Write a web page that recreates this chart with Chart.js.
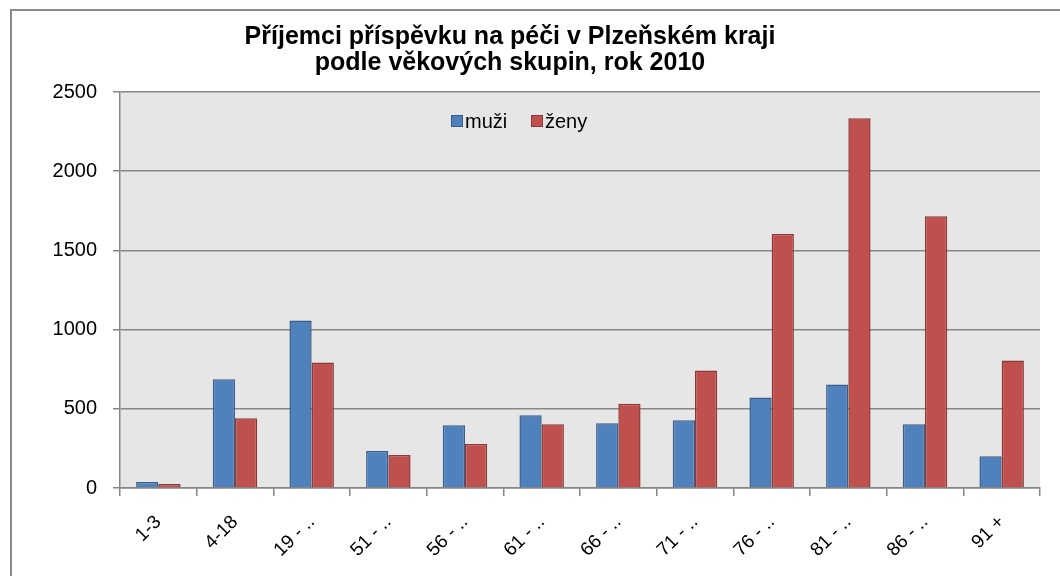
<!DOCTYPE html>
<html>
<head>
<meta charset="utf-8">
<script src="https://cdn.jsdelivr.net/npm/chart.js@4.4.1/dist/chart.umd.min.js"></script>
<style>
  html, body { margin: 0; padding: 0; background: #fff; overflow: hidden; }
  #frame { position: absolute; left: 10px; top: 9px; width: 1100px; height: 620px; border: 2px solid #8a8a8a; box-sizing: border-box; }
  #wrap { position: absolute; left: -20px; top: 0; width: 1080px; height: 576px; }
</style>
</head>
<body>
<div id="frame"></div>
<div id="wrap"><canvas id="chart" width="1080" height="576"></canvas></div>
<script>
// data
const categories = ["1-3", "4-18", "19 - ..", "51 - ..", "56 - ..", "61 - ..", "66 - ..", "71 - ..", "76 - ..", "81 - ..", "86 - ..", "91 +"];
const muzi = [38, 686, 1057, 233, 396, 459, 409, 428, 572, 654, 402, 201];
const zeny = [25, 440, 793, 208, 277, 402, 532, 742, 1604, 2334, 1715, 805];
const yTicks = [0, 500, 1000, 1500, 2000, 2500];
const seriesNames = ["muži", "ženy"];
const titleLines = ["Příjemci příspěvku na péči v Plzeňském kraji", "podle věkových skupin, rok 2010"];

const FONT = "'Liberation Sans', Arial, sans-serif";
const GRID = "#868686";

// light grey plot background
const plotBg = {
  id: "plotBg",
  beforeDraw(chart) {
    const { ctx, chartArea: a } = chart;
    ctx.save();
    ctx.fillStyle = "#e6e6e6";
    ctx.fillRect(a.left, a.top, a.width, a.height);
    ctx.restore();
  }
};

// legend sits inside the plot, near the top
const innerLegend = {
  id: "innerLegend",
  afterDatasetsDraw(chart) {
    const ctx = chart.ctx;
    const y = chart.chartArea.top + 29;
    let x = 471;
    ctx.save();
    ctx.font = "20px " + FONT;
    ctx.textBaseline = "middle";
    chart.data.datasets.forEach(ds => {
      ctx.fillStyle = ds.backgroundColor;
      ctx.strokeStyle = ds.borderColor;
      ctx.lineWidth = 1;
      ctx.fillRect(x, y - 6, 12, 12);
      ctx.strokeRect(x + 0.5, y - 5.5, 11, 11);
      ctx.fillStyle = "#000";
      ctx.fillText(ds.label, x + 14, y + 1);
      x += 80;
    });
    ctx.restore();
  }
};

new Chart(document.getElementById("chart"), {
  type: "bar",
  data: {
    labels: categories,
    datasets: [
      {
        label: seriesNames[0],
        data: muzi,
        backgroundColor: "#4f81bd",
        borderColor: "#385d8a",
        borderWidth: 1.5,
        barPercentage: 1,
        categoryPercentage: 0.58
      },
      {
        label: seriesNames[1],
        data: zeny,
        backgroundColor: "#c0504d",
        borderColor: "#8c3836",
        borderWidth: 1.5,
        barPercentage: 1,
        categoryPercentage: 0.58
      }
    ]
  },
  options: {
    responsive: false,
    animation: false,
    layout: { padding: { left: 0, right: 20, top: 0, bottom: 0 } },
    plugins: {
      legend: { display: false },
      tooltip: { enabled: false },
      title: {
        display: true,
        text: titleLines,
        color: "#000",
        font: { family: FONT, size: 25, weight: "bold", lineHeight: 1.05 },
        padding: { top: 24, bottom: 15.5 }
      }
    },
    scales: {
      x: {
        afterFit(scale) { scale.height = 88; },
        grid: { display: true, drawOnChartArea: false, color: GRID, lineWidth: 1.5, tickLength: 8 },
        border: { display: true, color: GRID, width: 1.5 },
        ticks: {
          color: "#000",
          font: { family: FONT, size: 19 },
          maxRotation: 45,
          minRotation: 45,
          padding: 15,
          autoSkip: false
        }
      },
      y: {
        min: yTicks[0],
        max: yTicks[yTicks.length - 1],
        afterFit(scale) { scale.width = 140; },
        grid: { color: GRID, lineWidth: 1.5, tickLength: 7 },
        border: { display: true, color: GRID, width: 1.5 },
        ticks: {
          stepSize: yTicks[1] - yTicks[0],
          callback: v => String(v),
          color: "#000",
          font: { family: FONT, size: 20 },
          padding: 16
        }
      }
    }
  },
  plugins: [plotBg, innerLegend]
});
</script>
</body>
</html>
